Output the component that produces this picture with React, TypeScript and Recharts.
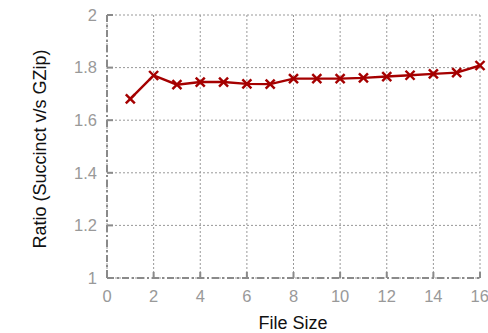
import React from "react";
import { LineChart, Line, XAxis, YAxis, CartesianGrid } from "recharts";

const fileSizes = [1, 2, 3, 4, 5, 6, 7, 8, 9, 10, 11, 12, 13, 14, 15, 16];
const ratios = [
  1.681, 1.77, 1.735, 1.745, 1.745, 1.738, 1.737, 1.758, 1.758, 1.758, 1.761,
  1.766, 1.771, 1.776, 1.781, 1.808,
];
const xTicks = [0, 2, 4, 6, 8, 10, 12, 14, 16];
const yTicks = [1, 1.2, 1.4, 1.6, 1.8, 2];

const FONT = "'Liberation Sans', Arial, sans-serif";
const RED = "#a50000";
const AXIS = "#8a8a8a";
const TICK_TEXT = "#999";

const data = fileSizes.map((x, i) => ({ size: x, ratio: ratios[i] }));

function Cross(props: any) {
  const { cx, cy } = props;
  if (cx == null || cy == null) return null;
  const r = 4.5;
  return (
    <g stroke={RED} strokeWidth={2.4}>
      <line x1={cx - r} y1={cy - r} x2={cx + r} y2={cy + r} />
      <line x1={cx - r} y1={cy + r} x2={cx + r} y2={cy - r} />
    </g>
  );
}

export default function App() {
  return (
    <div style={{ position: "absolute", left: 0, top: 0, fontFamily: FONT }}>
      <LineChart
        width={488}
        height={333}
        data={data}
        margin={{ top: 15, right: 8, left: 0, bottom: 0 }}
      >
        <CartesianGrid stroke="#999" strokeDasharray="2 2" strokeWidth={1} />
        <XAxis
          dataKey="size"
          type="number"
          domain={[0, 16]}
          ticks={xTicks}
          height={55}
          tickSize={-6}
          tickMargin={18}
          axisLine={{ stroke: AXIS, strokeWidth: 2, strokeDasharray: "7 3 2 3" }}
          tickLine={{ stroke: AXIS, strokeWidth: 2 }}
          tick={{ fill: TICK_TEXT, fontSize: 16.5, fontFamily: FONT }}
          label={{
            content: () => (
              <text
                x={293}
                y={329}
                textAnchor="middle"
                fontSize={18}
                fontFamily={FONT}
                fill="#111"
              >
                File Size
              </text>
            ),
          }}
        />
        <YAxis
          type="number"
          domain={[1, 2]}
          ticks={yTicks}
          width={107}
          tickSize={-6}
          tickMargin={16}
          tickFormatter={(v: number) => `${v}`}
          axisLine={{ stroke: AXIS, strokeWidth: 2, strokeDasharray: "7 3 2 3" }}
          tickLine={{ stroke: AXIS, strokeWidth: 2 }}
          tick={{ fill: TICK_TEXT, fontSize: 16.5, fontFamily: FONT }}
          label={{
            content: () => (
              <text
                x={46}
                y={149}
                textAnchor="middle"
                fontSize={18}
                fontFamily={FONT}
                fill="#111"
                transform="rotate(-90 46 149)"
              >
                Ratio (Succinct v/s GZip)
              </text>
            ),
          }}
        />
        <Line
          dataKey="ratio"
          stroke={RED}
          strokeWidth={2.4}
          dot={<Cross />}
          activeDot={false}
          isAnimationActive={false}
        />
      </LineChart>
    </div>
  );
}
